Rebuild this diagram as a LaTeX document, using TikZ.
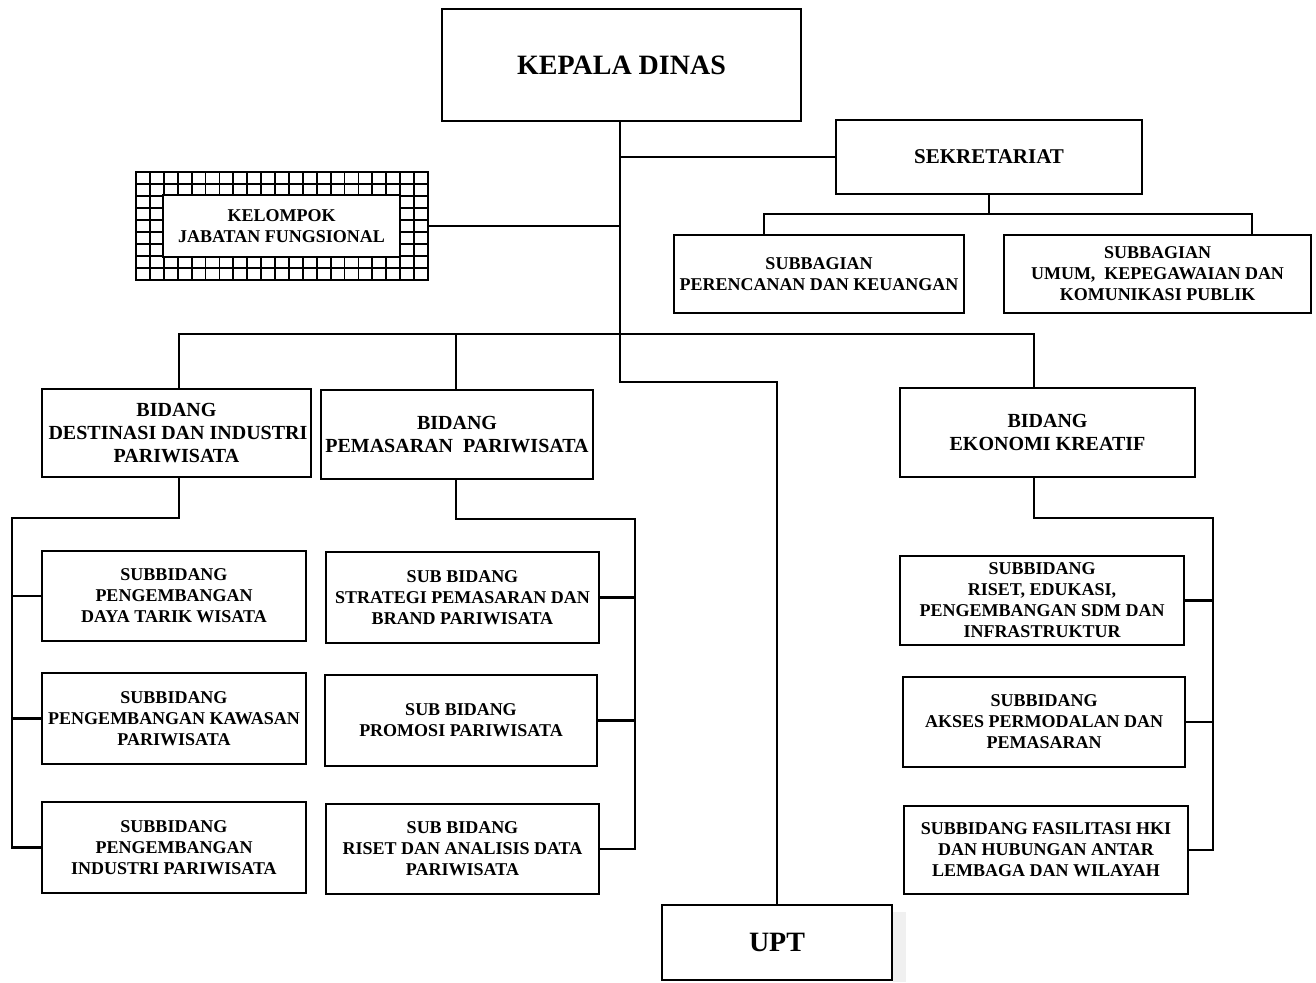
\documentclass[tikz,border=0pt]{standalone}
\usepackage{fontspec}
\setmainfont{Liberation Serif}
\begin{document}
\begin{tikzpicture}[x=1pt,y=-1pt,
  box/.style={draw, line width=2.6pt, rectangle, align=center, inner sep=0pt,
    font=\bfseries\fontsize{18}{21}\selectfont},
  bidbox/.style={box, font=\bfseries\fontsize{20}{23}\selectfont},
  sekbox/.style={box, font=\bfseries\fontsize{21}{24}\selectfont},
  bigbox/.style={box, font=\bfseries\fontsize{28}{32}\selectfont},
  conn/.style={line width=2.6pt},
  gridline/.style={line width=1.8pt}]
\useasboundingbox (0,0) rectangle (1316,982);

% top
\node[bigbox, minimum width=359, minimum height=112] (kd) at (621.5,65) {KEPALA DINAS};
\node[sekbox, minimum width=306, minimum height=74] (sek) at (989,157) {SEKRETARIAT};
\node[box, minimum width=290, minimum height=78] (sbp) at (819,274) {SUBBAGIAN\\PERENCANAN DAN KEUANGAN};
\node[box, minimum width=307, minimum height=78] (sbu) at (1157.5,274) {SUBBAGIAN\\UMUM,\ \ KEPEGAWAIAN DAN\\KOMUNIKASI PUBLIK};

% kelompok jabatan fungsional (grid frame)
\foreach \i in {1,...,20} {
  \draw[gridline] ({136+\i*292/21},172) -- ({136+\i*292/21},280);
}
\foreach \j in {1,...,8} {
  \draw[gridline] (136,{172+\j*12}) -- (428,{172+\j*12});
}
\node[draw, line width=2.6pt, minimum width=292, minimum height=108, inner sep=0pt] (kjf) at (282,226) {};
\node[box, fill=white, minimum width=237, minimum height=62] (kjfin) at (281.5,226) {KELOMPOK\\JABATAN FUNGSIONAL};

% bidang
\node[bidbox, minimum width=269, minimum height=88] (bd) at (176.5,433) {BIDANG\\\hspace*{3pt}DESTINASI DAN INDUSTRI\\PARIWISATA};
\node[bidbox, minimum width=272, minimum height=89] (bp) at (457,434.5) {BIDANG\\PEMASARAN\ \ PARIWISATA};
\node[bidbox, minimum width=295, minimum height=89] (be) at (1047.5,432.5) {BIDANG\\EKONOMI KREATIF};

% destinasi subs
\node[box, minimum width=264, minimum height=90] (d1) at (174,596) {SUBBIDANG\\PENGEMBANGAN\\DAYA TARIK WISATA};
\node[box, minimum width=264, minimum height=91] (d2) at (174,718.5) {SUBBIDANG\\PENGEMBANGAN KAWASAN\\PARIWISATA};
\node[box, minimum width=264, minimum height=91] (d3) at (174,847.5) {SUBBIDANG\\PENGEMBANGAN\\INDUSTRI PARIWISATA};

% pemasaran subs
\node[box, minimum width=273, minimum height=91] (p1) at (462.5,597.5) {SUB BIDANG\\STRATEGI PEMASARAN DAN\\BRAND PARIWISATA};
\node[box, minimum width=272, minimum height=91] (p2) at (461,720.5) {SUB BIDANG\\PROMOSI PARIWISATA};
\node[box, minimum width=273, minimum height=90] (p3) at (462.5,849) {SUB BIDANG\\RISET DAN ANALISIS DATA\\PARIWISATA};

% ekonomi subs
\node[box, minimum width=284, minimum height=89] (e1) at (1042,600.5) {SUBBIDANG\\RISET, EDUKASI,\\PENGEMBANGAN SDM DAN\\INFRASTRUKTUR};
\node[box, minimum width=282, minimum height=90] (e2) at (1044,722) {SUBBIDANG\\AKSES PERMODALAN DAN\\PEMASARAN};
\node[box, minimum width=284, minimum height=88] (e3) at (1046,850) {SUBBIDANG FASILITASI HKI\\DAN HUBUNGAN ANTAR\\LEMBAGA DAN WILAYAH};

% upt
\fill[black!6] (893,912) rectangle (906,982);
\node[bigbox, fill=white, minimum width=230, minimum height=75] (upt) at (777,942.5) {UPT};

% coordinates
\coordinate (top) at (620,121);
\coordinate (busL) at (179,334);
\coordinate (busM) at (456,334);
\coordinate (busR) at (1034,334);
\coordinate (uptbend) at (777,382);
\coordinate (sa) at (764,214);
\coordinate (sb) at (1252,214);
\coordinate (dj) at (179,518);
\coordinate (dl) at (12,518);
\coordinate (pj) at (456,519);
\coordinate (pr) at (635,519);
\coordinate (ej) at (1034,518);
\coordinate (er) at (1213,518);

% connectors
\draw[conn] (top) |- (sek.west);
\draw[conn] (top) |- (kjf.east);
\draw[conn] (top) |- (uptbend) -- (upt.north);
\draw[conn] (busL |- bd.north) -- (busL) -- (busR) -- (busR |- be.north);
\draw[conn] (busM |- bp.north) -- (busM);

\draw[conn] (sek.south) -- (sek.south |- sa);
\draw[conn] (sa |- sbp.north) -- (sa) -- (sb) -- (sb |- sbu.north);

\draw[conn] (dj |- bd.south) -- (dj) -- (dl) |- (d3.west);
\draw[conn] (dl |- d1.west) -- (d1.west);
\draw[conn] (dl |- d2.west) -- (d2.west);

\draw[conn] (pj |- bp.south) -- (pj) -- (pr) |- (p3.east);
\draw[conn] (pr |- p1.east) -- (p1.east);
\draw[conn] (pr |- p2.east) -- (p2.east);

\draw[conn] (ej |- be.south) -- (ej) -- (er) |- (e3.east);
\draw[conn] (er |- e1.east) -- (e1.east);
\draw[conn] (er |- e2.east) -- (e2.east);
\end{tikzpicture}
\end{document}
